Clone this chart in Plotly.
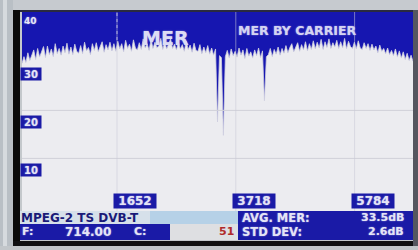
import plotly.graph_objects as go

# ---------------- data ----------------
carrier_step = 34
mer_db = [
    31.8, 33.2, 32.0, 34.0, 32.4, 33.5, 34.6, 32.6, 34.9, 33.1,
    34.2, 35.3, 33.0, 35.4, 33.6, 34.8, 33.2, 35.9, 33.8, 34.9,
    33.5, 35.4, 34.0, 36.0, 33.7, 35.2, 33.6, 35.8, 34.3, 33.9,
    35.5, 33.8, 36.2, 34.4, 35.1, 33.6, 35.9, 34.5, 36.1, 34.2,
    35.3, 36.3, 34.1, 35.7, 34.6, 36.2, 34.4, 35.9, 34.3, 36.4,
    34.8, 35.9, 34.2, 36.6, 34.9, 35.8, 34.3, 36.7, 35.0, 34.6,
    36.1, 34.7, 36.9, 35.0, 35.9, 34.5, 36.8, 34.9, 36.2, 35.1,
    35.4, 37.0, 34.7, 36.3, 34.8, 36.0, 36.9, 34.9, 35.8, 34.6,
    36.2, 34.8, 35.7, 34.3, 36.4, 34.7, 35.6, 34.1, 36.0, 34.5,
    34.3, 35.7, 33.8, 35.2, 34.0, 35.5, 33.7, 35.0, 33.5, 34.8,
    19.6, 33.4, 33.0, 16.8, 33.2, 34.5, 32.9, 34.8, 33.4, 34.3,
    33.1, 35.0, 33.5, 34.6, 32.8, 34.9, 33.3, 34.2, 32.9, 34.6,
    33.4, 35.0, 33.0, 34.4, 24.0, 33.2, 33.6, 34.9, 33.2, 34.7,
    33.7, 35.2, 33.5, 34.9, 33.9, 35.5, 34.0, 35.1, 35.9, 34.2,
    35.3, 36.1, 34.3, 35.7, 34.6, 36.3, 34.4, 35.9, 34.7, 36.5,
    34.8, 36.2, 35.0, 36.8, 34.7, 36.3, 35.1, 36.9, 34.9, 36.1,
    35.2, 36.6, 34.9, 36.3, 35.0, 37.0, 34.8, 36.4, 35.3, 34.9,
    36.2, 34.8, 36.5, 35.0, 34.7, 36.1, 34.9, 35.9, 34.5, 35.8,
    34.6, 35.4, 34.0, 35.6, 34.3, 34.9, 33.8, 35.0, 33.6, 34.5,
    33.4, 34.8, 33.1, 34.4, 32.9, 34.2, 32.6, 33.9, 32.4, 33.5, 32.2,
]
carriers = [i * carrier_step for i in range(len(mer_db))]
n_carriers = 6817

y_tick_values = [40, 30, 20, 10]
y_grid_values = [22, 12]
x_tick_carriers = [1652, 3718, 5784]

title_text = "MER"
subtitle_text = "MER BY CARRIER"
stream_text = "MPEG-2 TS DVB-T"
freq_label, freq_value, chan_label, chan_value = "F:", "714.00", "C:", "51"
avg_label, avg_value = "AVG. MER:", "33.5dB"
std_label, std_value = "STD DEV:", "2.6dB"

# ---------------- layout geometry ----------------
W, H = 418, 250
L, R, T, B = 22, 4, 12, 39
PW, PH = W - L - R, H - T - B


def px(x):
    return (x - L) / PW


def py(y):
    return (H - B - y) / PH


BLUE = "#1616b0"
BOXBLUE = "#1a1aa6"
FILL = "#ececf0"
FONT = "DejaVu Sans"
WHITE_TXT = "#e4e4f6"
GLOW = "0px 0px 1.5px rgba(200,200,240,0.8)"

fig = go.Figure()
fig.add_trace(go.Scatter(
    x=carriers, y=mer_db, mode="lines", fill="tozeroy",
    fillcolor=FILL, line=dict(color="#cfcfe0", width=0.8),
    hoverinfo="skip", showlegend=False,
))

shapes = []


def rect(x0, y0, x1, y1, color, layer="above"):
    shapes.append(dict(type="rect", xref="paper", yref="paper",
                       x0=px(x0), x1=px(x1), y0=py(y0), y1=py(y1),
                       fillcolor=color, line=dict(width=0), layer=layer))


# grid lines
for gv in y_grid_values:
    shapes.append(dict(type="line", xref="paper", yref="y", x0=0, x1=1,
                       y0=gv, y1=gv, line=dict(color="#d0d0d8", width=1),
                       layer="above"))
for c in x_tick_carriers:
    shapes.append(dict(type="line", xref="x", yref="paper", x0=c, x1=c,
                       y0=0, y1=1, line=dict(color="rgba(200,200,215,0.55)", width=1),
                       layer="above"))
shapes.append(dict(type="line", xref="x", yref="paper", x0=x_tick_carriers[0],
                   x1=x_tick_carriers[0], y0=py(40), y1=1,
                   line=dict(color="rgba(200,200,235,0.8)", width=1, dash="dot"),
                   layer="above"))

# info panel
rect(20, 211, 150, 224, "#d6e0ea")
rect(150, 211, 238, 224, "#b6d1e7")
rect(238, 211, 413, 224, BOXBLUE)
rect(20, 224, 170, 240, BOXBLUE)
rect(170, 224, 238, 240, "#dedfe2")
rect(238, 224, 413, 240, BOXBLUE)

# bezel / frame
rect(0, 0, 418, 10, "#c6cacf")
rect(0, 0, 13, 250, "#b9bfc5")
rect(3, 0, 7, 250, "#d6dade")
rect(13, 10, 418, 12, "#2a2a40")
rect(13, 10, 20, 246, "#0a0a0a")
rect(13, 241, 418, 246, "#101012")
rect(0, 246, 418, 250, "#c2c6ca")
rect(413, 10, 418, 246, "#55565f")

annotations = []


def text(x, y, s, size, color, anchor="left", shadow=GLOW):
    annotations.append(dict(
        xref="paper", yref="paper", x=px(x), y=py(y), text=f"<b>{s}</b>",
        showarrow=False, xanchor=anchor, yanchor="middle",
        font=dict(family=FONT, size=size, color=color, shadow=shadow)))


# titles
text(165, 38, title_text, 19, "#dcdcf4", anchor="center")
text(297, 31, subtitle_text, 12.5, "#d4d4f2", anchor="center")

# y tick labels
for v in y_tick_values:
    if v == 40:
        annotations.append(dict(xref="paper", yref="y", x=px(30), y=v + 0.6, text=f"<b>{v}</b>",
                                showarrow=False, xanchor="center", yanchor="middle",
                                font=dict(family=FONT, size=9, color=WHITE_TXT, shadow=GLOW)))
    else:
        annotations.append(dict(xref="paper", yref="y", x=px(31), y=v - 0.5, text=f"<b>{v}</b>",
                                showarrow=False, xanchor="center", yanchor="middle",
                                width=20, height=12, bgcolor=BOXBLUE, borderpad=0,
                                font=dict(family=FONT, size=10, color=WHITE_TXT, shadow=GLOW)))

# x tick label boxes
for c in x_tick_carriers:
    annotations.append(dict(xref="x", yref="paper", x=c, y=py(201), text=f"<b>{c}</b>",
                            showarrow=False, xanchor="left", yanchor="middle", xshift=-4,
                            width=42, height=14, bgcolor=BOXBLUE, borderpad=0,
                            font=dict(family=FONT, size=12, color=WHITE_TXT, shadow=GLOW)))

# info text
text(19, 217.5, stream_text, 12, "#1a1a78", shadow="none")
text(240, 217.5, avg_label, 11.5, WHITE_TXT)
text(406, 217.5, avg_value, 11, WHITE_TXT, anchor="right")
text(20, 232, freq_label, 11, WHITE_TXT)
text(113, 232, freq_value, 12, WHITE_TXT, anchor="right")
text(132, 232, chan_label, 11, WHITE_TXT)
text(236, 232, chan_value, 11, "#b02a2a", anchor="right", shadow="none")
text(240, 232, std_label, 11.5, WHITE_TXT)
text(406, 232, std_value, 11, WHITE_TXT, anchor="right")

fig.update_layout(
    width=W, height=H,
    margin=dict(l=L, r=R, t=T, b=B, pad=0),
    paper_bgcolor="#c4c8cc", plot_bgcolor=BLUE,
    xaxis=dict(range=[0, n_carriers], showticklabels=False, showgrid=False,
               zeroline=False, showline=False, ticks="", fixedrange=True),
    yaxis=dict(range=[(216 - 211) / 4.8, (216 - 12) / 4.8], showticklabels=False,
               showgrid=False, zeroline=False, showline=False, ticks="", fixedrange=True),
    shapes=shapes, annotations=annotations, showlegend=False,
)

fig.write_html(
    "out.html",
    config={"displayModeBar": False},
    post_script="document.body.style.margin='0';document.body.style.overflow='hidden';",
)
